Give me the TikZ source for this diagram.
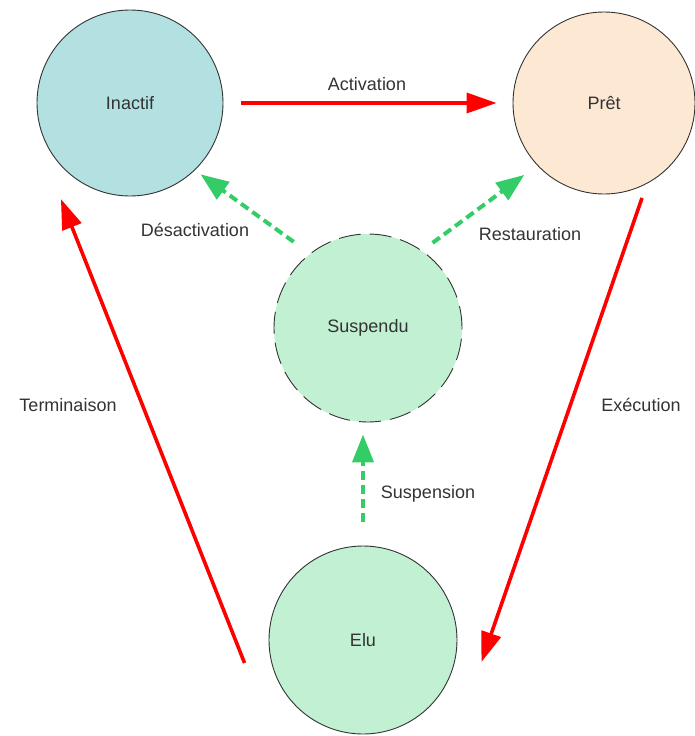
\documentclass[tikz,border=0pt]{standalone}
\usepackage{fontspec}
\setmainfont{Liberation Sans}
\usepackage{xcolor}
\usepackage{tikz}
\usetikzlibrary{arrows.meta,calc}
\definecolor{inactifteal}{HTML}{B3E1E1}
\definecolor{pretpeach}{HTML}{FDE8D4}
\definecolor{etatgreen}{HTML}{C2F0D2}
\definecolor{flechegreen}{HTML}{33CC66}
\definecolor{textgray}{HTML}{333333}
\tikzset{
  etat/.style={circle,draw=textgray,line width=0.9pt,minimum size=186pt,
    inner sep=0pt,text=textgray,font=\fontsize{18}{22}\selectfont},
  redarrow/.style={-{Triangle[length=30pt,width=20pt]},line width=3.6pt,draw=red},
  greenarrow/.style={-{Triangle[length=28pt,width=21pt]},line width=4pt,
    draw=flechegreen,dash pattern=on 9pt off 5pt},
  etiquette/.style={text=textgray,font=\fontsize{18}{22}\selectfont}
}
\begin{document}
\begin{tikzpicture}[x=1pt,y=-1pt]
\useasboundingbox (0,0) rectangle (694,736);
\node[etat,fill=inactifteal] (inactif) at (130,103) {Inactif};
\node[etat,fill=pretpeach,minimum size=182pt] (pret) at (604,103) {Prêt};
\node[etat,fill=etatgreen,minimum size=188pt,dash pattern=on 22pt off 9pt] (suspendu) at (368,328) {Suspendu};
\node[etat,fill=etatgreen,minimum size=188pt] (elu) at (363,640) {Elu};
% transitions
\draw[redarrow,shorten <=18pt,shorten >=16pt] (inactif.east) -- (pret.west);
\draw[redarrow,shorten <=15pt] (pret.-62) -- ([shift={(24,22)}]elu.east);
\draw[redarrow] ([shift={(-24,23)}]elu.west) -- ([shift={(-3,30)}]inactif.south west);
\draw[greenarrow,shorten <=24pt,shorten >=12pt] (elu.north) -- (elu.north |- suspendu.south);
\draw[greenarrow,shorten <=20pt,shorten >=7pt] (suspendu.128.8) -- (inactif.-46.6);
\draw[greenarrow,shorten <=13pt,shorten >=16pt] (suspendu.55.3) -- (pret.223.4);
% labels
\node[etiquette] (lactivation) at (367,84) {Activation};
\node[etiquette] (lexecution) at (641,405) {Exécution};
\node[etiquette] (lterminaison) at (68,405) {Terminaison};
\node[etiquette] (lsuspension) at (428,494) {Suspension};
\node[etiquette] (ldesactivation) at (195,230) {Désactivation};
\node[etiquette] (lrestauration) at (530,234) {Restauration};
\end{tikzpicture}
\end{document}
